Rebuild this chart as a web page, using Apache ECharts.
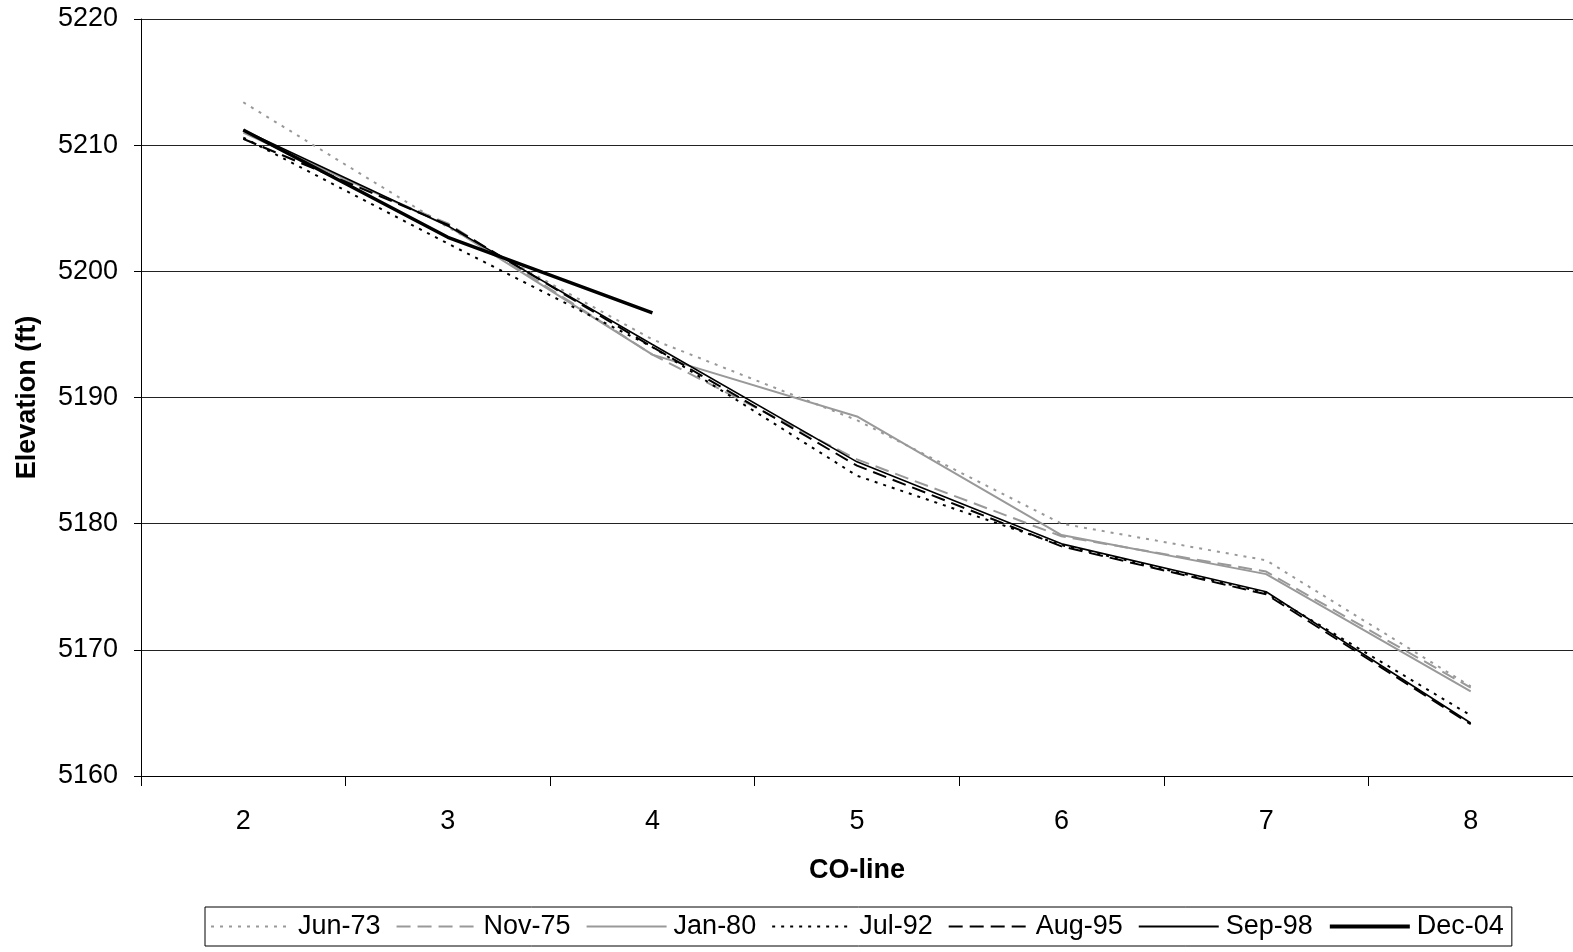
<!DOCTYPE html>
<html>
<head>
    <meta charset="utf-8">
    <title>CO-line elevation</title>
    <script src="https://cdn.jsdelivr.net/npm/echarts@6/dist/echarts.min.js"></script>
    <style>
        body { margin: 0; background: #fff; }
    </style>
</head>
<body>
<div id="main" style="width: 1573px;height:952px;"></div>
<script type="text/javascript">
    // survey stations along the CO-line
    var coLine = ['2', '3', '4', '5', '6', '7', '8'];

    // elevation (ft) per survey date
    var jun73 = [5213.4, 5203.5, 5194.6, 5188.2, 5180.0, 5177.1, 5167.1];
    var nov75 = [5210.5, 5203.8, 5193.4, 5185.1, 5179.0, 5176.2, 5167.0];
    var jan80 = [5211.0, 5203.6, 5193.4, 5188.5, 5179.1, 5176.0, 5166.7];
    var jul92 = [5210.6, 5202.2, 5194.0, 5183.8, 5178.3, 5174.5, 5164.8];
    var aug95 = [5210.5, 5203.7, 5194.0, 5184.6, 5178.2, 5174.4, 5164.1];
    var sep98 = [5211.2, 5203.6, 5194.2, 5184.9, 5178.4, 5174.6, 5164.2];
    var dec04 = [5211.2, 5202.7, 5196.7, null, null, null, null];

    var grey = '#999999';
    var dark = '#000000';
    var font = 'Liberation Sans, Arial, sans-serif';

    function line(name, data, color, width, type) {
        return {
            name: name,
            type: 'line',
            data: data,
            symbol: 'none',
            connectNulls: false,
            lineStyle: { color: color, width: width, type: type },
            itemStyle: { color: color }
        };
    }

    var myChart = echarts.init(document.getElementById('main'));
    var option = {
        animation: false,
        textStyle: { fontFamily: font },
        grid: { left: 141, right: 0, top: 19, bottom: 176 },
        legend: {
            left: 205,
            top: 907,
            itemWidth: 80,
            itemHeight: 14,
            itemGap: 15,
            padding: [6, 8, 6, 5],
            borderColor: '#000',
            borderWidth: 1,
            itemStyle: { opacity: 0 },
            data: ['Jun-73', 'Nov-75', 'Jan-80', 'Jul-92', 'Aug-95', 'Sep-98',
                { name: 'Dec-04', lineStyle: { width: 4 } }],
            textStyle: { fontSize: 27, color: '#000', padding: [0, 0, 0, 2], fontFamily: font }
        },
        xAxis: {
            type: 'category',
            data: coLine,
            boundaryGap: true,
            name: 'CO-line',
            nameLocation: 'middle',
            nameGap: 81,
            nameTextStyle: { fontSize: 27, fontWeight: 'bold', color: '#000' },
            axisLine: { lineStyle: { color: '#000', width: 1 } },
            axisTick: { show: true, length: 10, lineStyle: { color: '#000' } },
            axisLabel: { fontSize: 27, color: '#000', margin: 32 }
        },
        yAxis: {
            type: 'value',
            min: 5160,
            max: 5220,
            interval: 10,
            name: 'Elevation (ft)',
            nameLocation: 'middle',
            nameGap: 100,
            nameRotate: 90,
            nameTextStyle: { fontSize: 27, fontWeight: 'bold', color: '#000' },
            axisLine: { show: true, lineStyle: { color: '#000', width: 1 } },
            axisTick: { show: true, length: 7, lineStyle: { color: '#000' } },
            axisLabel: { fontSize: 27, color: '#000', margin: 23,
                formatter: function (v) { return String(v); } },
            splitLine: { lineStyle: { color: '#222', width: 1 } }
        },
        series: [
            line('Jun-73', jun73, grey, 2, [3, 6]),
            line('Nov-75', nov75, grey, 2, [14, 7]),
            line('Jan-80', jan80, grey, 2, 'solid'),
            line('Jul-92', jul92, dark, 2, [3, 6]),
            line('Aug-95', aug95, dark, 2, [14, 7]),
            line('Sep-98', sep98, dark, 1.6, 'solid'),
            line('Dec-04', dec04, dark, 3.5, 'solid')
        ]
    };
    myChart.setOption(option);
</script>
</body>
</html>
